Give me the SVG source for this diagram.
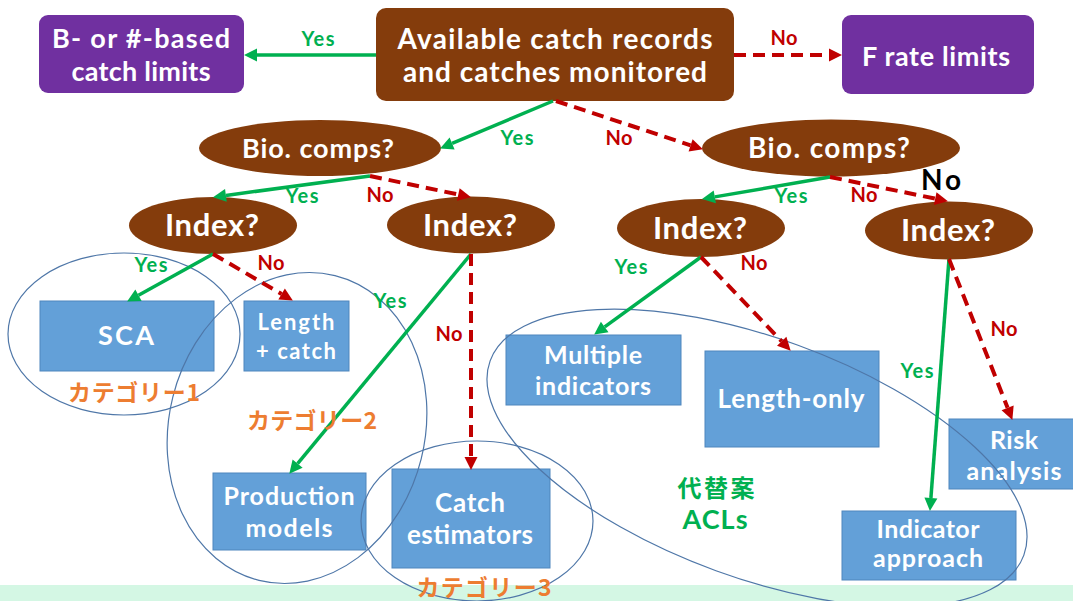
<svg xmlns="http://www.w3.org/2000/svg" width="1073" height="601" viewBox="0 0 1073 601">
  <defs>
    <style>
      .t { font-family: Lato, "Noto Sans", sans-serif; font-weight: 700; text-anchor: middle; }
      .wt { fill: #ffffff; }
      .purple { fill: #7030a0; }
      .brown { fill: #843c0c; }
      .blue { fill: #63a0d8; stroke: #4f86bd; stroke-width: 1; }
      .ring { fill: none; stroke: #4f77a8; stroke-width: 1.2; }
      .yes { fill: #00b050; font-size: 20px; }
      .no { fill: #c00000; font-size: 20px; }
      .cat { font-family: "Noto Sans CJK JP", sans-serif; font-weight: 700; fill: #ed7d31; font-size: 23px; text-anchor: middle; }
      .alt { font-family: Lato, "Noto Sans CJK JP", sans-serif; font-weight: 700; fill: #00b050; text-anchor: middle; }
      .g { stroke: #00b050; stroke-width: 3.5; fill: none; marker-end: url(#headG); }
      .r { stroke: #c00000; stroke-width: 4; fill: none; stroke-dasharray: 12 7; marker-end: url(#headR); }
    </style>
    <marker id="headG" markerUnits="userSpaceOnUse" markerWidth="14" markerHeight="14" refX="0" refY="6.5" orient="auto" viewBox="0 -0.5 13 14">
      <path d="M0,0 L13,6.5 L0,13 z" fill="#00b050"/>
    </marker>
    <marker id="headR" markerUnits="userSpaceOnUse" markerWidth="14" markerHeight="14" refX="0" refY="6.5" orient="auto" viewBox="0 -0.5 13 14">
      <path d="M0,0 L13,6.5 L0,13 z" fill="#c00000"/>
    </marker>
  </defs>

  <rect x="0" y="0" width="1073" height="601" fill="#ffffff"/>
  <rect x="0" y="585" width="1073" height="16" fill="#d4f7e4"/>

  <!-- top row -->
  <g id="node-b-based">
    <rect x="39" y="15" width="205" height="78" rx="9" class="purple"/>
    <text class="t wt" x="141" y="48" font-size="27" textLength="178">B- or #-based</text>
    <text class="t wt" x="141" y="81" font-size="27" textLength="139">catch limits</text>
  </g>
  <g id="node-available">
    <rect x="376" y="8" width="358" height="93" rx="10" class="brown"/>
    <text class="t wt" x="555" y="49" font-size="28" textLength="315">Available catch records</text>
    <text class="t wt" x="555" y="82" font-size="28" textLength="304">and catches monitored</text>
  </g>
  <g id="node-f-rate">
    <rect x="842" y="15" width="192" height="79" rx="9" class="purple"/>
    <text class="t wt" x="936" y="66" font-size="27" textLength="148">F rate limits</text>
  </g>

  <!-- decisions -->
  <g id="node-bio-left">
    <ellipse cx="320" cy="148" rx="121" ry="28" class="brown"/>
    <text class="t wt" x="318" y="158" font-size="27" textLength="152">Bio. comps?</text>
  </g>
  <g id="node-bio-right">
    <ellipse cx="831" cy="148" rx="129" ry="28.5" class="brown"/>
    <text class="t wt" x="829" y="158" font-size="28" textLength="162">Bio. comps?</text>
  </g>
  <g id="node-index-1">
    <ellipse cx="213" cy="225.5" rx="84" ry="28.5" class="brown"/>
    <text class="t wt" x="212" y="236" font-size="31" textLength="94">Index?</text>
  </g>
  <g id="node-index-2">
    <ellipse cx="471" cy="225" rx="84" ry="28.5" class="brown"/>
    <text class="t wt" x="470" y="236" font-size="31" textLength="94">Index?</text>
  </g>
  <g id="node-index-3">
    <ellipse cx="701" cy="228" rx="84" ry="29" class="brown"/>
    <text class="t wt" x="700" y="239" font-size="31" textLength="94">Index?</text>
  </g>
  <g id="node-index-4">
    <ellipse cx="949" cy="230.5" rx="84" ry="29" class="brown"/>
    <text class="t wt" x="948" y="241" font-size="31" textLength="94">Index?</text>
  </g>

  <!-- methods -->
  <g id="node-sca">
    <rect x="40" y="301" width="174" height="70" class="blue"/>
    <text class="t wt" x="126" y="345" font-size="27" textLength="56">SCA</text>
  </g>
  <g id="node-length-catch">
    <rect x="244" y="301" width="105" height="70" class="blue"/>
    <text class="t wt" x="296" y="330" font-size="22" textLength="77">Length</text>
    <text class="t wt" x="296" y="359" font-size="22" textLength="80">+ catch</text>
  </g>
  <g id="node-production">
    <rect x="213" y="473" width="153" height="77" class="blue"/>
    <text class="t wt" x="289" y="505" font-size="25" textLength="131">Production</text>
    <text class="t wt" x="289" y="537" font-size="25" textLength="87">models</text>
  </g>
  <g id="node-catch-est">
    <rect x="392" y="469" width="158" height="99" class="blue"/>
    <text class="t wt" x="470" y="512" font-size="26" textLength="70">Catch</text>
    <text class="t wt" x="470" y="544" font-size="26" textLength="126">estimators</text>
  </g>
  <g id="node-multiple">
    <rect x="506" y="335" width="175" height="70" class="blue"/>
    <text class="t wt" x="593" y="364" font-size="25" textLength="98">Multiple</text>
    <text class="t wt" x="593" y="395" font-size="25" textLength="116">indicators</text>
  </g>
  <g id="node-length-only">
    <rect x="705" y="351" width="174" height="96" class="blue"/>
    <text class="t wt" x="791" y="408" font-size="26" textLength="147">Length-only</text>
  </g>
  <g id="node-risk">
    <rect x="949" y="419" width="130" height="70" class="blue"/>
    <text class="t wt" x="1014" y="449" font-size="25" textLength="48">Risk</text>
    <text class="t wt" x="1014" y="480" font-size="25" textLength="95">analysis</text>
  </g>
  <g id="node-indicator">
    <rect x="842" y="511" width="174" height="69" class="blue"/>
    <text class="t wt" x="928" y="538" font-size="25" textLength="103">Indicator</text>
    <text class="t wt" x="928" y="567" font-size="25" textLength="110">approach</text>
  </g>

  <!-- category outlines -->
  <g id="groups">
    <ellipse class="ring" cx="124" cy="334" rx="116" ry="81"/>
    <ellipse class="ring" cx="297" cy="428" rx="128" ry="157" transform="rotate(14 297 428)"/>
    <ellipse class="ring" cx="477" cy="521" rx="116" ry="80"/>
    <ellipse class="ring" cx="757" cy="458" rx="284" ry="120" transform="rotate(20 757 458)"/>
  </g>

  <!-- connectors -->
  <g id="connectors">
    <line class="g" x1="376" y1="55" x2="257" y2="55"/>
    <line class="r" x1="734" y1="55" x2="829" y2="55"/>
    <line class="g" x1="553" y1="101" x2="452.1" y2="143.4"/>
    <line class="r" x1="556" y1="101" x2="690.6" y2="145.3"/>
    <line class="g" x1="370" y1="176" x2="225.9" y2="195.4"/>
    <line class="r" x1="370" y1="176" x2="458.3" y2="194.5"/>
    <line class="g" x1="830" y1="177" x2="714.8" y2="196.9"/>
    <line class="r" x1="830" y1="177" x2="935.2" y2="198.6"/>
    <line class="g" x1="213" y1="254" x2="138.5" y2="295.2"/>
    <line class="r" x1="213" y1="254" x2="281.6" y2="294"/>
    <line class="g" x1="471" y1="254" x2="297.6" y2="463.7"/>
    <line class="r" x1="471" y1="254" x2="471" y2="457"/>
    <line class="g" x1="701" y1="257" x2="604.7" y2="326.9"/>
    <line class="r" x1="701" y1="257" x2="781.7" y2="341.3"/>
    <line class="g" x1="949" y1="259" x2="930.9" y2="498"/>
    <line class="r" x1="949" y1="259" x2="1007.6" y2="407.8"/>
  </g>

  <!-- connector labels -->
  <g id="labels">
    <text class="t yes" x="318" y="46" textLength="33">Yes</text>
    <text class="t no" x="784" y="45" textLength="27">No</text>
    <text class="t yes" x="517" y="145" textLength="33">Yes</text>
    <text class="t no" x="619" y="145" textLength="27">No</text>
    <text class="t yes" x="302" y="203" textLength="33">Yes</text>
    <text class="t no" x="380" y="202" textLength="27">No</text>
    <text class="t yes" x="791" y="203" textLength="33">Yes</text>
    <text class="t no" x="864" y="202" textLength="27">No</text>
    <text class="t" x="941" y="190" font-size="28" fill="#000000" textLength="40">No</text>
    <text class="t yes" x="151" y="272" textLength="33">Yes</text>
    <text class="t no" x="271" y="270" textLength="27">No</text>
    <text class="t yes" x="390" y="308" textLength="33">Yes</text>
    <text class="t no" x="449" y="341" textLength="27">No</text>
    <text class="t yes" x="631" y="274" textLength="33">Yes</text>
    <text class="t no" x="754" y="270" textLength="27">No</text>
    <text class="t yes" x="917" y="378" textLength="33">Yes</text>
    <text class="t no" x="1004" y="336" textLength="27">No</text>
  </g>

  <!-- category captions -->
  <g id="captions">
    <text class="cat" x="134" y="401" textLength="132">カテゴリー1</text>
    <text class="cat" x="312" y="429" textLength="130">カテゴリー2</text>
    <text class="cat" x="484" y="596" textLength="135">カテゴリー3</text>
    <text class="alt" x="716" y="497" font-size="24" textLength="77">代替案</text>
    <text class="alt" x="715" y="529" font-size="27" textLength="65">ACLs</text>
  </g>
</svg>
